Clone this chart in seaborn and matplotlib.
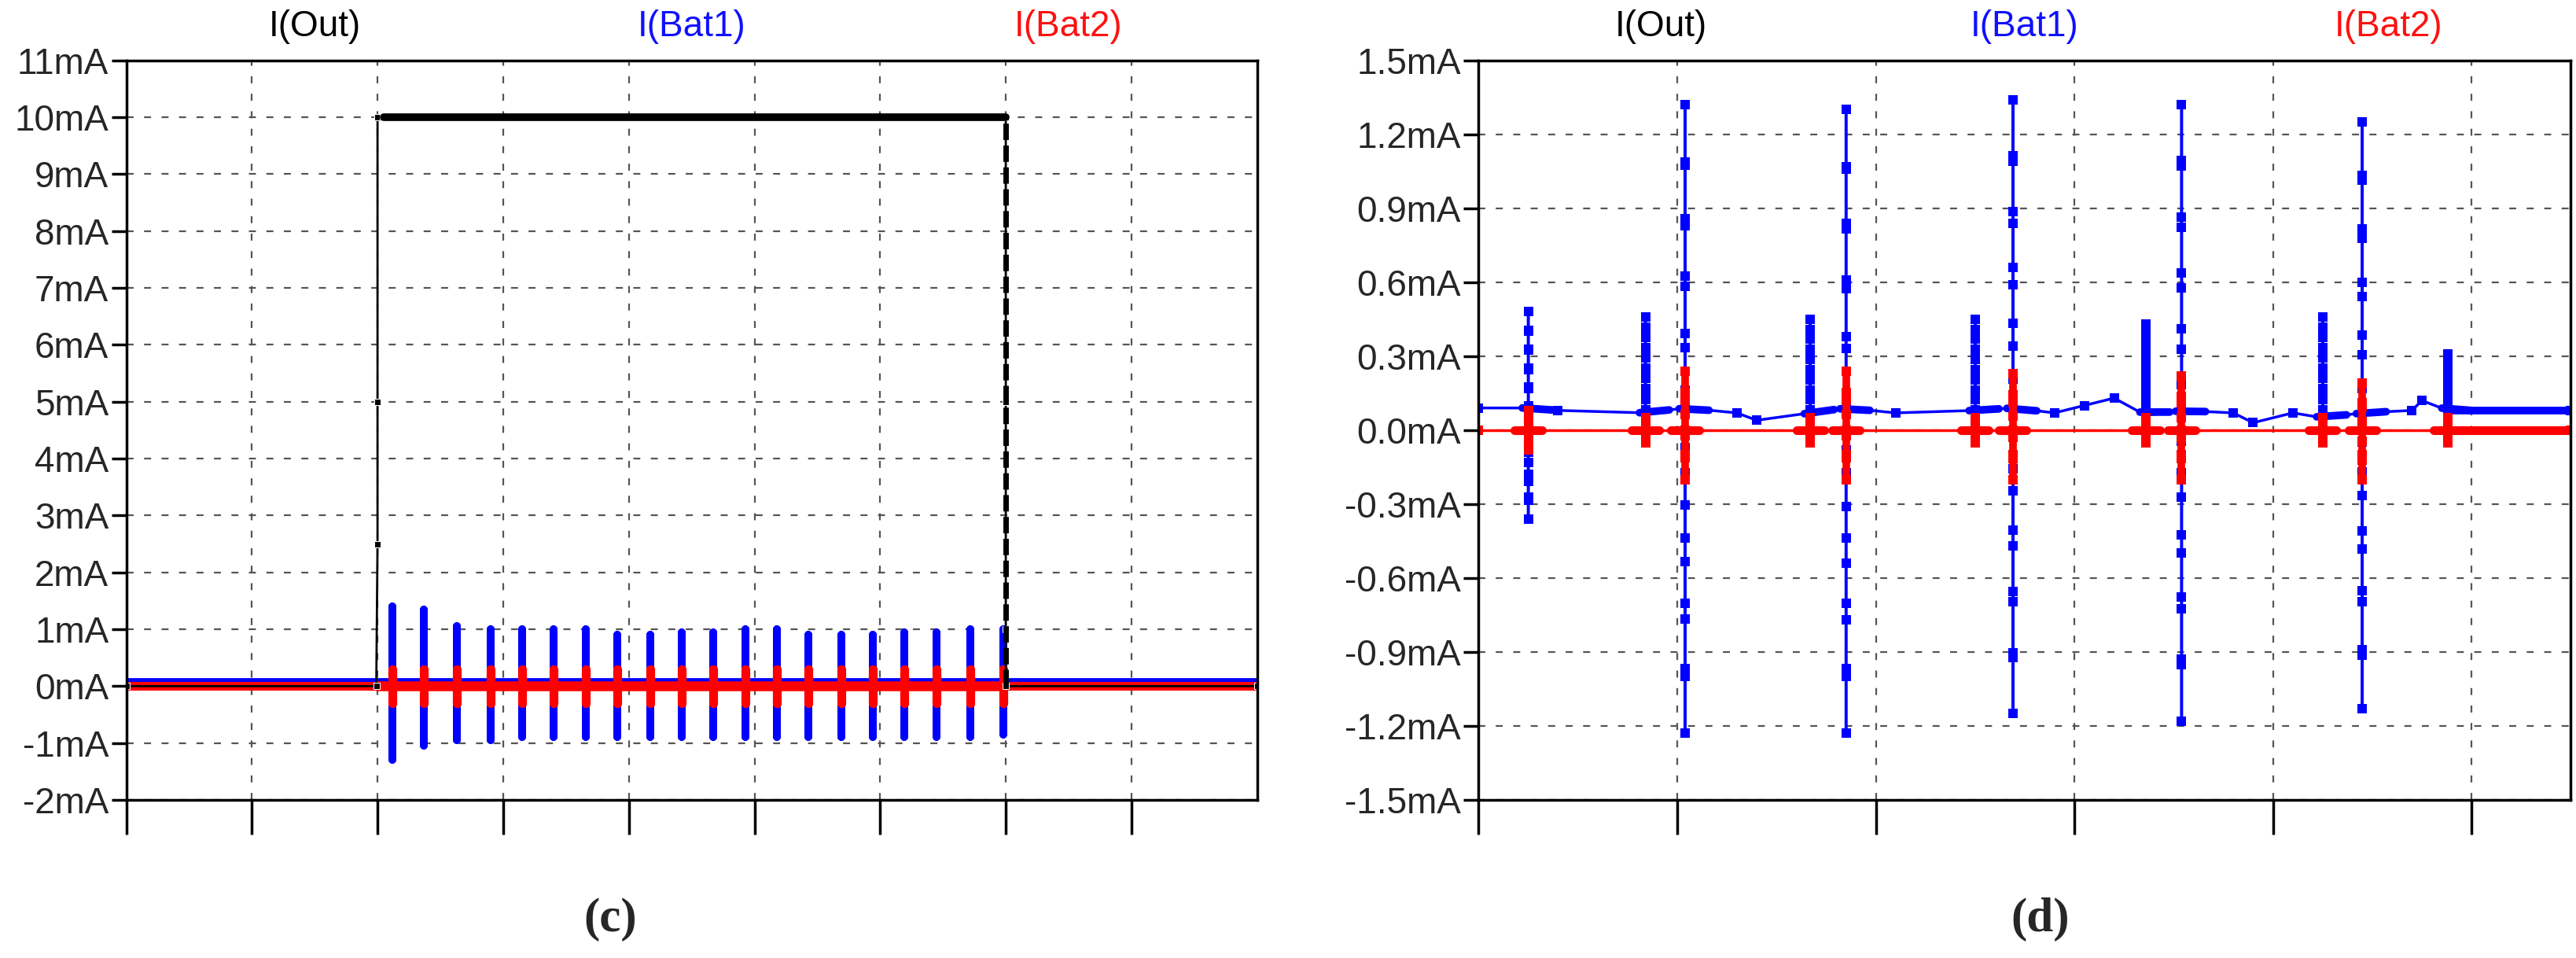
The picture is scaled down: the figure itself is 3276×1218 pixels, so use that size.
import numpy as np
import pandas as pd
import matplotlib
matplotlib.use("Agg")
import matplotlib.pyplot as plt
import seaborn as sns

sns.set_theme(style="white")
FAM = ['Liberation Sans Narrow', 'Liberation Sans', 'DejaVu Sans']
plt.rcParams['font.family'] = FAM

# ---------- panel (c) data (mA) ----------
c_out_x = [0.0, 1.99, 2.0, 2.0, 2.0, 2.04, 7.0, 7.0, 7.0, 7.0, 9.0]
c_out_y = [0.0, 0.0, 2.5, 5.0, 10.0, 10.0, 10.0, 5.0, 1.0, 0.0, 0.0]
c_spike_x = [2.12, 2.37, 2.63, 2.9, 3.15, 3.4, 3.66, 3.91, 4.17, 4.42, 4.67,
             4.93, 5.18, 5.43, 5.69, 5.94, 6.19, 6.45, 6.72, 6.98]
c_spike_hi = [1.4, 1.35, 1.05, 1.0, 1.0, 1.0, 1.0, 0.9, 0.9, 0.95, 0.95, 1.0,
              1.0, 0.9, 0.9, 0.9, 0.95, 0.95, 1.0, 1.0]
c_spike_lo = [-1.3, -1.05, -0.95, -0.95, -0.9, -0.9, -0.9, -0.9, -0.9, -0.9,
              -0.9, -0.9, -0.9, -0.9, -0.9, -0.9, -0.9, -0.9, -0.9, -0.85]
c_bat1_base = 0.08
c_bat2_spike = 0.3

# ---------- panel (d) data (mA) ----------
d_spike_x = [0.25, 0.84, 1.04, 1.67, 1.85, 2.5, 2.69, 3.36, 3.54, 4.25, 4.45, 4.88]
d_spike_hi = [0.48, 0.46, 1.32, 0.45, 1.30, 0.45, 1.34, 0.43, 1.32, 0.46, 1.25, 0.31]
d_spike_lo = [-0.36, 0.0, -1.23, 0.0, -1.23, 0.0, -1.15, 0.0, -1.18, 0.0, -1.13, 0.0]
d_red_hi = [0.08, 0.05, 0.24, 0.05, 0.24, 0.05, 0.23, 0.05, 0.22, 0.05, 0.19, 0.05]
d_red_lo = [-0.08, -0.05, -0.2, -0.05, -0.2, -0.05, -0.2, -0.05, -0.2, -0.05, -0.2, -0.05]
d_base_x = [0.0, 0.25, 0.4, 0.84, 1.04, 1.3, 1.4, 1.67, 1.85, 2.1, 2.5, 2.69, 2.9,
            3.05, 3.2, 3.36, 3.54, 3.8, 3.9, 4.1, 4.25, 4.45, 4.7, 4.75, 4.88, 5.5]
d_base_y = [0.09, 0.09, 0.08, 0.07, 0.09, 0.07, 0.04, 0.07, 0.09, 0.07, 0.08, 0.09,
            0.07, 0.1, 0.13, 0.06, 0.08, 0.07, 0.03, 0.07, 0.05, 0.07, 0.08, 0.12, 0.08, 0.08]
labels = ["I(Out)", "I(Bat1)", "I(Bat2)"]
label_colors = ["black", "#1010ff", "#ff1010"]


def spike_series(base_x, base_y, sx, hi, lo, n=6):
    xs, ys = [], []
    bx = list(base_x); by = list(base_y)
    pts = sorted(zip(bx, by))
    events = sorted(zip(sx, hi, lo))
    j = 0
    for x, y in pts:
        while j < len(events) and events[j][0] <= x:
            ex, h, l = events[j]
            b = np.interp(ex, bx, by)
            xs.append(ex); ys.append(b)
            for v in np.linspace(b, h, n)[1:]:
                xs.append(ex); ys.append(v)
            for v in np.linspace(h, l, 2 * n)[1:]:
                xs.append(ex); ys.append(v)
            for v in np.linspace(l, b, n)[1:]:
                xs.append(ex); ys.append(v)
            j += 1
        xs.append(x); ys.append(y)
    return pd.DataFrame({"x": xs, "y": ys})


fig = plt.figure(figsize=(32.76, 12.18), dpi=100)
axc = fig.add_axes([0.049, 0.165, 0.439, 0.772])
axd = fig.add_axes([0.574, 0.165, 0.424, 0.772])


def style(ax, xmax, ymin, ymax, yticks, ylabels):
    ax.set_xlim(0, xmax); ax.set_ylim(ymin, ymax)
    ax.set_xticks(np.arange(0, xmax, 1.0))
    ax.set_xticklabels([])
    ax.set_yticks(yticks)
    ax.set_yticklabels(ylabels, fontsize=33, fontweight="medium")
    ax.grid(True, color="#555555", linestyle=(0, (4, 6)), linewidth=1.6)
    for s in ax.spines.values():
        s.set_color("black"); s.set_linewidth(2.5)
    ax.tick_params(axis="x", direction="out", length=32, width=2.5, color="black", bottom=True)
    ax.tick_params(axis="y", direction="out", length=14, width=2.5, color="black", left=True, pad=2)
    ax.set_xlabel(""); ax.set_ylabel("")
    for i, (t, c) in enumerate(zip(labels, label_colors)):
        ax.text((i + 0.5) / 3 - 0.0, 1.022, t, transform=ax.transAxes, color=c,
                fontsize=33, ha="center", va="bottom")


# panel (c)
c_bx = [0, 2.0] + [v + 0.1 for v in c_spike_x] + [9.0]
c_by = [c_bat1_base] * len(c_bx)
b1 = spike_series(c_bx, c_by, c_spike_x, c_spike_hi, c_spike_lo, n=8)
b2 = spike_series([0, 9.0], [0, 0], c_spike_x, [c_bat2_spike] * len(c_spike_x),
                  [-c_bat2_spike] * len(c_spike_x), n=4)
red_base = pd.DataFrame({"x": np.concatenate([np.linspace(2.0, 7.0, 60)]), "y": 0.0})
sns.lineplot(data=b1, x="x", y="y", ax=axc, sort=False, estimator=None, color="#0000ff",
             lw=7, marker="s", markersize=5, markeredgewidth=0)
sns.lineplot(data=pd.DataFrame({"x": [0, 9], "y": [c_bat1_base] * 2}), x="x", y="y", ax=axc,
             color="#0000ff", lw=2)
sns.lineplot(data=b2, x="x", y="y", ax=axc, sort=False, estimator=None, color="#ff0000",
             lw=8, marker="s", markersize=6, markeredgewidth=0)
sns.lineplot(data=red_base, x="x", y="y", ax=axc, color="#ff0000", lw=9)
sns.lineplot(data=pd.DataFrame({"x": [0, 9], "y": [0, 0]}), x="x", y="y", ax=axc,
             color="#ff0000", lw=2)
out = pd.DataFrame({"x": c_out_x, "y": c_out_y})
sns.lineplot(data=out, x="x", y="y", ax=axc, sort=False, estimator=None, color="black",
             lw=2, marker="s", markersize=6)
sns.lineplot(data=pd.DataFrame({"x": [2.05, 7.0], "y": [10.0, 10.0]}), x="x", y="y",
             ax=axc, color="black", lw=7)
sns.lineplot(data=pd.DataFrame({"x": [7.0, 7.0], "y": [0.0, 10.0]}), x="x", y="y",
             ax=axc, sort=False, estimator=None, color="black", lw=5, linestyle=(0, (3, 1)))
style(axc, 9, -2, 11, np.arange(-2, 12, 1), [f"{v}mA" for v in range(-2, 12)])

# panel (d)
d1 = spike_series(d_base_x, d_base_y, d_spike_x, d_spike_hi, d_spike_lo, n=6)
sns.lineplot(data=d1, x="x", y="y", ax=axd, sort=False, estimator=None, color="#0000ff",
             lw=2.5, marker="s", markersize=8, markeredgewidth=0)
for sx in d_spike_x:
    seg = pd.DataFrame({"x": [sx - 0.03, sx + 0.12]})
    seg["y"] = np.interp(seg["x"], d_base_x, d_base_y)
    sns.lineplot(data=seg, x="x", y="y", ax=axd, color="#0000ff", lw=7)
    rseg = pd.DataFrame({"x": [sx - 0.07, sx + 0.07], "y": [0.0, 0.0]})
    sns.lineplot(data=rseg, x="x", y="y", ax=axd, color="#ff0000", lw=8)
seg = pd.DataFrame({"x": [4.9, 5.5]})
seg["y"] = np.interp(seg["x"], d_base_x, d_base_y)
sns.lineplot(data=seg, x="x", y="y", ax=axd, color="#0000ff", lw=7)
sns.lineplot(data=pd.DataFrame({"x": [4.9, 5.5], "y": [0.0, 0.0]}), x="x", y="y", ax=axd,
             color="#ff0000", lw=8)
d2 = spike_series([0, 5.5], [0, 0], d_spike_x, d_red_hi, d_red_lo, n=3)
sns.lineplot(data=d2, x="x", y="y", ax=axd, sort=False, estimator=None, color="#ff0000",
             lw=2.5, marker="s", markersize=8, markeredgewidth=0)
for sx, h, l in zip(d_spike_x, d_red_hi, d_red_lo):
    sns.lineplot(data=pd.DataFrame({"x": [sx, sx], "y": [l, h]}), x="x", y="y", ax=axd,
                 sort=False, estimator=None, color="#ff0000", lw=7)
dt = np.round(np.arange(-1.5, 1.51, 0.3), 1)
style(axd, 5.5, -1.5, 1.5, dt, [f"{v:.1f}mA".replace("-0.0", "0.0") for v in dt])

fig.text(0.237, 0.04, "(c)", fontsize=44, ha="center", va="center",
         family=["Liberation Serif", "DejaVu Serif"], fontweight="bold")
fig.text(0.792, 0.04, "(d)", fontsize=44, ha="center", va="center",
         family=["Liberation Serif", "DejaVu Serif"], fontweight="bold")
fig.savefig("out.png", dpi=100, facecolor="white")
